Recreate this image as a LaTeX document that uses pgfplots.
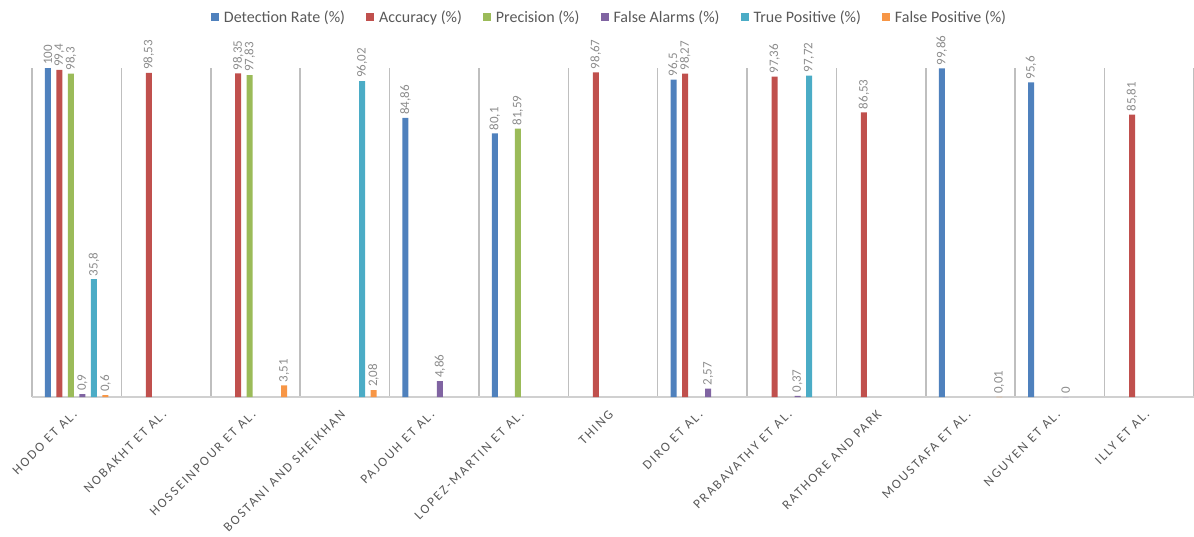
\documentclass[border=0pt]{standalone}
\usepackage{pgfplots}
\pgfplotsset{compat=1.18}
\usepackage{fontspec}
\setmainfont{Carlito}
\newfontfamily\spaced[LetterSpace=15]{Carlito}
\definecolor{cDR}{HTML}{4F81BD}
\definecolor{cAcc}{HTML}{C0504D}
\definecolor{cPrec}{HTML}{9BBB59}
\definecolor{cFA}{HTML}{8064A2}
\definecolor{cTP}{HTML}{4BACC6}
\definecolor{cFP}{HTML}{F79646}
\definecolor{sepgray}{HTML}{BFBFBF}
\definecolor{basegray}{HTML}{D0D0D0}
\definecolor{lblgray}{HTML}{8C8C8C}
\definecolor{txtgray}{HTML}{595959}
\pgfplotsset{sq/.style={legend image code/.code={\fill[##1] (0pt,-4pt) rectangle (8pt,4pt);}}}
\begin{document}
\begin{tikzpicture}
\useasboundingbox (-32pt,-139pt) rectangle (1162pt,397pt);
\begin{axis}[
  at={(0pt,0pt)}, anchor=south west,
  scale only axis, width=1162pt, height=329pt,
  xmin=-0.5, xmax=12.5, ymin=0, ymax=100,
  ybar=5.5pt, bar width=6pt,
  clip=false,
  axis x line*=bottom, axis y line=none,
  x axis line style={draw=basegray, line width=1.5pt},
  xtick={0,...,12},
  xticklabels={HODO ET AL.,NOBAKHT ET AL.,HOSSEINPOUR ET AL.,BOSTANI AND SHEIKHAN,PAJOUH ET AL.,LOPEZ-MARTIN ET AL.,THING,DIRO ET AL.,PRABAVATHY ET AL.,RATHORE AND PARK,MOUSTAFA ET AL.,NGUYEN ET AL.,ILLY ET AL.},
  major tick length=0pt, minor tick length=0pt,
  minor xtick={-0.5,0.5,...,12.5},
  xminorgrids, minor grid style={draw=sepgray, line width=1.5pt},
  ytick=\empty,
  xticklabel style={font=\spaced\fontsize{13.2}{15}\selectfont, text=txtgray, xshift=-5pt, yshift=-12pt, rotate=45, anchor=north east, inner sep=0pt},
  nodes near coords={\pgfmathprintnumber[fixed, use comma, precision=2, assume math mode=true]{\pgfplotspointmeta}},
  every node near coord/.append style={font=\fontsize{13}{15}\selectfont, text=lblgray, rotate=90, anchor=west, inner sep=3pt},
  legend columns=6,
  legend style={at={(0.497,1.155)}, anchor=center, draw=none, fill=none, font=\fontsize{16}{18}\selectfont, text=txtgray, /tikz/every even column/.append style={column sep=19pt}, /tikz/every odd column/.append style={column sep=3pt}},
]
\addplot[fill=cDR, draw=none, sq] coordinates {(0,100) (4,84.86) (5,80.1) (7,96.5) (10,99.86) (11,95.6)};
\addlegendentry{Detection Rate (\%)}
\addplot[fill=cAcc, draw=none, sq] coordinates {(0,99.4) (1,98.53) (2,98.35) (6,98.67) (7,98.27) (8,97.36) (9,86.53) (12,85.81)};
\addlegendentry{Accuracy (\%)}
\addplot[fill=cPrec, draw=none, sq] coordinates {(0,98.3) (2,97.83) (5,81.59)};
\addlegendentry{Precision (\%)}
\addplot[fill=cFA, draw=none, sq] coordinates {(0,0.9) (4,4.86) (7,2.57) (8,0.37) (11,0)};
\addlegendentry{False Alarms (\%)}
\addplot[fill=cTP, draw=none, sq] coordinates {(0,35.8) (3,96.02) (8,97.72)};
\addlegendentry{True Positive (\%)}
\addplot[fill=cFP, draw=none, sq] coordinates {(0,0.6) (2,3.51) (3,2.08) (10,0.01)};
\addlegendentry{False Positive (\%)}
\end{axis}
\end{tikzpicture}
\end{document}
